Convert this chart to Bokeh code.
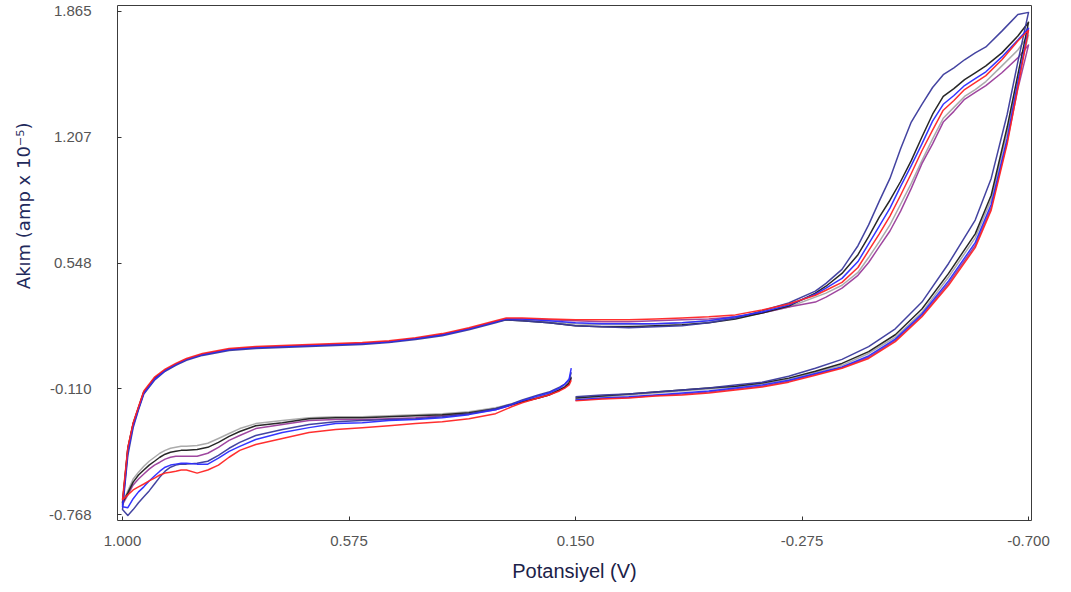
from bokeh.plotting import figure
from bokeh.models import Range1d, FixedTicker, PrintfTickFormatter
from bokeh.embed import file_html
from bokeh.resources import INLINE

# ---------------- data (potential in V, current in amp x 1e-5) ----------------
X_TICKS = [1.000, 0.575, 0.150, -0.275, -0.700]
Y_TICKS = [-0.768, -0.110, 0.548, 1.207, 1.865]

# cathodic sweep 0.15 -> -0.70
X1 = [0.150, 0.100, 0.050, 0.000, -0.050, -0.100, -0.150, -0.200, -0.250, -0.300,
      -0.350, -0.400, -0.450, -0.500, -0.550, -0.600, -0.630, -0.660, -0.680, -0.700]
# anodic sweep -0.70 -> 1.00
X2 = [-0.700, -0.680, -0.650, -0.620, -0.600, -0.580, -0.560, -0.540, -0.520, -0.500,
      -0.480, -0.460, -0.440, -0.420, -0.400, -0.380, -0.350, -0.320, -0.300, -0.250,
      -0.200, -0.150, -0.100, -0.050, 0.000, 0.050, 0.100, 0.150, 0.200, 0.250,
      0.280, 0.300, 0.350, 0.400, 0.450, 0.500, 0.550, 0.600, 0.650, 0.700,
      0.750, 0.800, 0.850, 0.880, 0.900, 0.920, 0.940, 0.960, 0.970, 0.980,
      0.990, 1.000]
# return sweep 1.00 -> 0.158
X3 = [1.000, 0.990, 0.980, 0.970, 0.960, 0.950, 0.940, 0.930, 0.920, 0.910,
      0.900, 0.890, 0.880, 0.860, 0.840, 0.820, 0.800, 0.780, 0.750, 0.700,
      0.650, 0.600, 0.550, 0.500, 0.450, 0.400, 0.350, 0.300, 0.270, 0.250,
      0.220, 0.200, 0.180, 0.170, 0.162, 0.158]

GRAY_1 = [-0.163, -0.152, -0.142, -0.132, -0.121, -0.111, -0.101, -0.085, -0.059, -0.023,
          0.013, 0.075, 0.160, 0.290, 0.475, 0.680, 0.880, 1.235, 1.515, 1.741]
GRAY_2 = [1.741, 1.663, 1.580, 1.498, 1.456, 1.420, 1.363, 1.306, 1.198, 1.084,
          0.965, 0.856, 0.748, 0.660, 0.577, 0.499, 0.432, 0.391, 0.370, 0.318,
          0.287, 0.261, 0.246, 0.236, 0.230, 0.225, 0.225, 0.230, 0.241, 0.251,
          0.256, 0.241, 0.204, 0.173, 0.153, 0.137, 0.127, 0.122, 0.117, 0.111,
          0.106, 0.096, 0.070, 0.044, 0.018, -0.013, -0.054, -0.127, -0.209, -0.292,
          -0.421, -0.706]
GRAY_3 = [-0.706, -0.644, -0.582, -0.546, -0.515, -0.489, -0.468, -0.447, -0.432, -0.421,
          -0.416, -0.411, -0.411, -0.406, -0.395, -0.370, -0.344, -0.318, -0.292, -0.276,
          -0.261, -0.256, -0.256, -0.251, -0.245, -0.240, -0.230, -0.209, -0.189, -0.173,
          -0.152, -0.137, -0.111, -0.096, -0.075, -0.044]

PURPLE_1 = [-0.170, -0.160, -0.155, -0.145, -0.137, -0.127, -0.111, -0.096, -0.070, -0.034,
            0.002, 0.055, 0.143, 0.274, 0.443, 0.640, 0.838, 1.185, 1.460, 1.689]
PURPLE_2 = [1.689, 1.622, 1.544, 1.477, 1.441, 1.405, 1.342, 1.286, 1.172, 1.068,
            0.939, 0.820, 0.716, 0.634, 0.551, 0.484, 0.417, 0.370, 0.344, 0.318,
            0.287, 0.267, 0.256, 0.251, 0.246, 0.241, 0.241, 0.246, 0.251, 0.256,
            0.256, 0.241, 0.204, 0.173, 0.153, 0.137, 0.127, 0.122, 0.117, 0.111,
            0.106, 0.096, 0.070, 0.044, 0.018, -0.013, -0.054, -0.127, -0.209, -0.292,
            -0.427, -0.716]
PURPLE_3 = [-0.716, -0.665, -0.613, -0.582, -0.556, -0.530, -0.509, -0.494, -0.478, -0.468,
            -0.463, -0.463, -0.463, -0.463, -0.447, -0.416, -0.380, -0.354, -0.318, -0.297,
            -0.276, -0.271, -0.271, -0.266, -0.261, -0.251, -0.240, -0.220, -0.194, -0.178,
            -0.158, -0.142, -0.116, -0.101, -0.080, -0.054]

BLACK_1 = [-0.158, -0.147, -0.137, -0.127, -0.116, -0.106, -0.096, -0.080, -0.054, -0.018,
           0.023, 0.085, 0.173, 0.308, 0.494, 0.701, 0.903, 1.260, 1.534, 1.808]
BLACK_2 = [1.808, 1.736, 1.648, 1.580, 1.544, 1.508, 1.461, 1.420, 1.327, 1.208,
           1.084, 0.975, 0.877, 0.789, 0.686, 0.592, 0.494, 0.427, 0.391, 0.323,
           0.287, 0.256, 0.236, 0.225, 0.220, 0.215, 0.215, 0.220, 0.236, 0.246,
           0.251, 0.241, 0.204, 0.173, 0.153, 0.137, 0.127, 0.122, 0.117, 0.111,
           0.106, 0.096, 0.070, 0.044, 0.018, -0.013, -0.054, -0.127, -0.209, -0.292,
           -0.421, -0.706]
BLACK_3 = [-0.706, -0.654, -0.598, -0.561, -0.535, -0.509, -0.489, -0.468, -0.452, -0.442,
           -0.437, -0.432, -0.432, -0.427, -0.416, -0.390, -0.359, -0.333, -0.303, -0.287,
           -0.266, -0.261, -0.261, -0.256, -0.251, -0.245, -0.235, -0.214, -0.194, -0.178,
           -0.158, -0.142, -0.116, -0.101, -0.080, -0.049]

NAVY_1 = [-0.152, -0.142, -0.137, -0.127, -0.116, -0.106, -0.090, -0.075, -0.044, -0.002,
          0.044, 0.111, 0.204, 0.344, 0.546, 0.773, 0.991, 1.327, 1.601, 1.860]
NAVY_2 = [1.860, 1.849, 1.762, 1.679, 1.648, 1.612, 1.570, 1.534, 1.467, 1.379,
          1.286, 1.146, 0.991, 0.872, 0.748, 0.639, 0.515, 0.442, 0.401, 0.339,
          0.298, 0.261, 0.236, 0.220, 0.215, 0.210, 0.215, 0.220, 0.236, 0.246,
          0.251, 0.236, 0.199, 0.168, 0.148, 0.132, 0.122, 0.117, 0.111, 0.106,
          0.101, 0.091, 0.065, 0.039, 0.013, -0.018, -0.065, -0.137, -0.220, -0.313,
          -0.458, -0.742]
NAVY_3 = [-0.742, -0.773, -0.742, -0.706, -0.675, -0.644, -0.608, -0.572, -0.541, -0.520,
          -0.509, -0.504, -0.504, -0.499, -0.489, -0.458, -0.421, -0.390, -0.354, -0.323,
          -0.297, -0.282, -0.276, -0.271, -0.266, -0.256, -0.240, -0.214, -0.189, -0.168,
          -0.142, -0.127, -0.101, -0.085, -0.065, -0.023]

BLUE_1 = [-0.168, -0.158, -0.152, -0.142, -0.132, -0.121, -0.106, -0.090, -0.065, -0.030,
          0.005, 0.062, 0.150, 0.282, 0.455, 0.655, 0.855, 1.200, 1.495, 1.777]
BLUE_2 = [1.777, 1.715, 1.627, 1.549, 1.513, 1.477, 1.425, 1.379, 1.291, 1.172,
          1.058, 0.949, 0.836, 0.742, 0.649, 0.556, 0.468, 0.417, 0.385, 0.329,
          0.292, 0.267, 0.246, 0.236, 0.230, 0.230, 0.230, 0.236, 0.246, 0.256,
          0.256, 0.241, 0.204, 0.173, 0.153, 0.137, 0.127, 0.122, 0.117, 0.111,
          0.106, 0.096, 0.070, 0.044, 0.018, -0.013, -0.059, -0.132, -0.214, -0.303,
          -0.437, -0.727]
BLUE_3 = [-0.727, -0.732, -0.685, -0.649, -0.623, -0.592, -0.566, -0.541, -0.520, -0.509,
          -0.504, -0.499, -0.499, -0.504, -0.504, -0.473, -0.437, -0.411, -0.375, -0.339,
          -0.313, -0.292, -0.287, -0.276, -0.271, -0.261, -0.245, -0.220, -0.194, -0.173,
          -0.147, -0.132, -0.106, -0.085, -0.059, -0.002]

RED_1 = [-0.173, -0.163, -0.158, -0.147, -0.142, -0.132, -0.116, -0.101, -0.075, -0.039,
         -0.002, 0.049, 0.137, 0.267, 0.432, 0.629, 0.825, 1.172, 1.467, 1.767]
RED_2 = [1.767, 1.710, 1.612, 1.529, 1.493, 1.456, 1.399, 1.348, 1.244, 1.136,
         1.017, 0.903, 0.794, 0.701, 0.613, 0.525, 0.447, 0.406, 0.380, 0.334,
         0.303, 0.277, 0.267, 0.261, 0.256, 0.251, 0.251, 0.251, 0.256, 0.261,
         0.261, 0.246, 0.210, 0.179, 0.158, 0.142, 0.132, 0.127, 0.122, 0.117,
         0.111, 0.101, 0.075, 0.049, 0.023, -0.007, -0.049, -0.121, -0.204, -0.287,
         -0.416, -0.690]
RED_3 = [-0.690, -0.665, -0.639, -0.623, -0.608, -0.592, -0.577, -0.561, -0.551, -0.546,
         -0.541, -0.535, -0.535, -0.551, -0.535, -0.509, -0.468, -0.432, -0.401, -0.370,
         -0.339, -0.323, -0.313, -0.303, -0.292, -0.282, -0.266, -0.240, -0.204, -0.183,
         -0.158, -0.142, -0.121, -0.106, -0.090, -0.065]

SERIES = [
    ("#a6a6a6", GRAY_1, GRAY_2, GRAY_3),
    ("#9a3c9a", PURPLE_1, PURPLE_2, PURPLE_3),
    ("#1c1c1c", BLACK_1, BLACK_2, BLACK_3),
    ("#3a3a9c", NAVY_1, NAVY_2, NAVY_3),
    ("#2a2aff", BLUE_1, BLUE_2, BLUE_3),
    ("#ff2424", RED_1, RED_2, RED_3),
]

Y_LABEL = "Akım (amp x 10⁻⁵)"
X_LABEL = "Potansiyel (V)"

# ---------------- figure ----------------
p = figure(width=1060, height=584, output_backend="svg", toolbar_location=None,
           x_range=Range1d(1.0094, -0.7056), y_range=Range1d(-0.799, 1.896),
           min_border_left=117, min_border_right=29, min_border_top=5,
           min_border_bottom=59)
p.xgrid.visible = False
p.ygrid.visible = False
p.outline_line_color = "#3c3c3c"
p.outline_line_width = 1
p.background_fill_color = "white"
p.border_fill_color = "white"

for color, b1, b2, b3 in SERIES:
    assert len(b1) == len(X1) and len(b2) == len(X2) and len(b3) == len(X3)
    xs = X1 + X2[1:] + X3[1:]
    ys = b1 + b2[1:] + b3[1:]
    p.line(xs, ys, line_color=color, line_width=1.5, line_alpha=0.95,
           line_join="round")

fmt = PrintfTickFormatter(format="%.3f")

xa = p.xaxis[0]
xa.ticker = FixedTicker(ticks=X_TICKS)
xa.formatter = fmt
xa.axis_line_color = None
xa.major_tick_in = 4
xa.major_tick_out = 0
xa.minor_tick_line_color = None
xa.major_tick_line_color = "#333333"
xa.major_label_standoff = 15
xa.major_label_text_font = "Liberation Sans"
xa.major_label_text_font_size = "15px"
xa.major_label_text_color = "#555555"
xa.axis_label = X_LABEL
xa.axis_label_text_font = "Liberation Sans"
xa.axis_label_text_font_size = "20px"
xa.axis_label_text_font_style = "normal"
xa.axis_label_text_color = "#1c2248"
xa.axis_label_standoff = 11

ya = p.yaxis[0]
ya.ticker = FixedTicker(ticks=Y_TICKS)
ya.formatter = fmt
ya.axis_line_color = None
ya.major_tick_in = 4
ya.major_tick_out = 0
ya.minor_tick_line_color = None
ya.major_tick_line_color = "#333333"
ya.major_label_standoff = 26
ya.major_label_text_font = "Liberation Sans"
ya.major_label_text_font_size = "15px"
ya.major_label_text_color = "#555555"
# leading no-break spaces shift the centred label upward, as in the original
ya.axis_label = "\u00a0" * 20 + Y_LABEL
ya.axis_label_text_font = "DejaVu Sans"
ya.axis_label_text_font_size = "18px"
ya.axis_label_text_font_style = "normal"
ya.axis_label_text_color = "#1f2a5c"
ya.axis_label_standoff = 12

open("out.html", "w").write(file_html(p, INLINE))
